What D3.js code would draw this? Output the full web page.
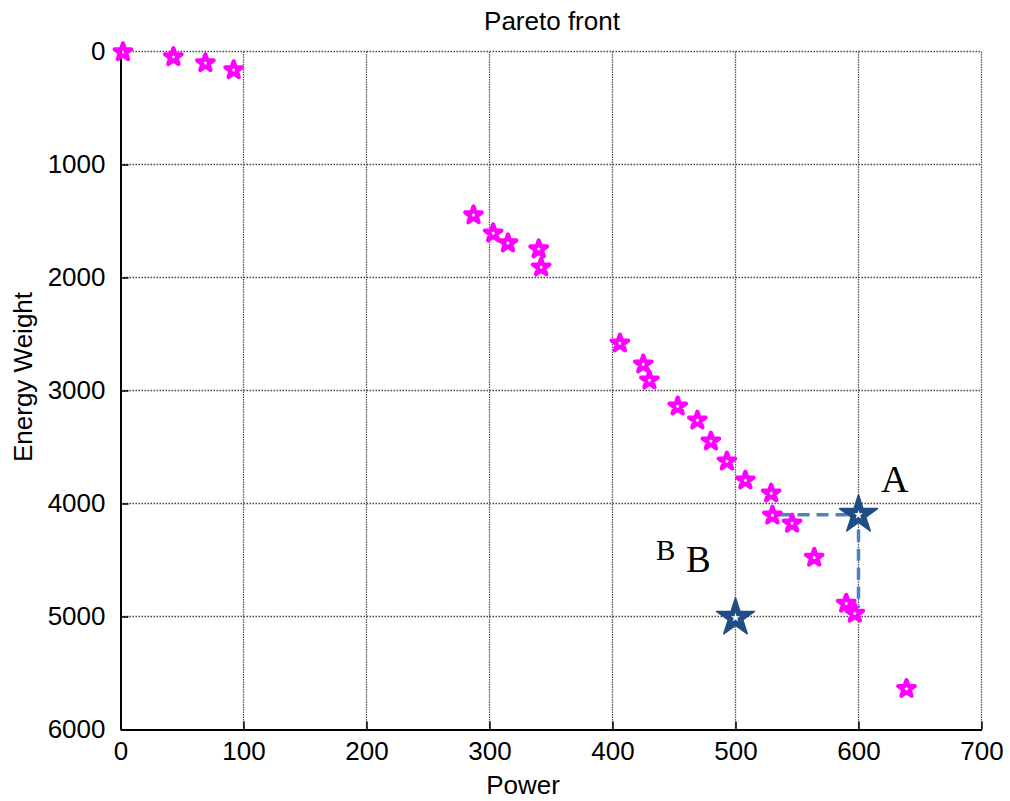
<!DOCTYPE html>
<html>
<head>
<meta charset="utf-8">
<script src="https://cdn.jsdelivr.net/npm/d3@7"></script>
<style>
  body { margin: 0; background: #fff; }
  text { font-family: "Liberation Sans", Arial, sans-serif; fill: #000; }
</style>
</head>
<body>
<svg id="viz"></svg>
<script>
// pareto front points (power, energy weight)
var paretoPower  = [2, 43, 69, 92, 287, 303, 315, 340, 342, 406, 425, 430, 453, 469, 480, 493, 508, 529, 530, 546, 564, 590, 597, 639];
var paretoEnergy = [5, 48, 102, 164, 1448, 1608, 1696, 1749, 1909, 2582, 2768, 2910, 3140, 3264, 3450, 3627, 3795, 3910, 4105, 4176, 4478, 4885, 4973, 5640];

// the two picked solutions
var solutionNames  = ['A', 'B'];
var solutionPower  = [600, 500];
var solutionEnergy = [4100, 5010];

// dashed guide from A
var linkPower  = [535, 600, 600];
var linkEnergy = [4100, 4100, 4920];

var xTicks = [0, 100, 200, 300, 400, 500, 600, 700];
var yTicks = [0, 1000, 2000, 3000, 4000, 5000, 6000];

var width = 1010, height = 801;
var svg = d3.select('#viz').attr('width', width).attr('height', height);

var x = d3.scaleLinear().domain([0, 700]).range([120.5, 981.5]);
var y = d3.scaleLinear().domain([0, 6000]).range([51.5, 729.5]);

//grid
var grid = svg.append('g');
grid.selectAll('line.h')
  .data(yTicks.slice(0, -1))
  .enter().append('line')
  .attr('x1', x(0)).attr('x2', x(700))
  .attr('y1', d => y(d)).attr('y2', d => y(d))
  .attr('stroke', '#444').attr('stroke-width', 1.3)
  .attr('stroke-dasharray', '1.5,1.5');
grid.selectAll('line.v')
  .data(xTicks.slice(1))
  .enter().append('line')
  .attr('y1', y(0)).attr('y2', y(6000))
  .attr('x1', d => x(d)).attr('x2', d => x(d))
  .attr('stroke', '#555').attr('stroke-width', 1.3)
  .attr('stroke-dasharray', '1.5,1');

//axes
var fmt = d3.format('d');
var yAxis = svg.append('g')
  .attr('transform', 'translate(' + x(0) + ',0)')
  .call(d3.axisLeft(y).tickValues(yTicks).tickFormat(fmt).tickSizeInner(-8).tickSizeOuter(0).tickPadding(15));
var xAxis = svg.append('g')
  .attr('transform', 'translate(0,' + y(6000) + ')')
  .call(d3.axisBottom(x).tickValues(xTicks).tickFormat(fmt).tickSizeInner(-8).tickSizeOuter(0).tickPadding(12));

[xAxis, yAxis].forEach(function(a) {
  a.select('.domain').attr('stroke', '#000').attr('stroke-width', 2);
  a.selectAll('.tick line').attr('stroke', '#000').attr('stroke-width', 1.5);
  a.selectAll('.tick text').style('font-size', '26px').attr('fill', '#000');
});
yAxis.selectAll('.tick').filter(d => d === 0).select('line').remove();
xAxis.selectAll('.tick').filter(d => d === 0).select('line').remove();

//dashed guide
var line = d3.line().x(d => x(d[0])).y(d => y(d[1]));
svg.append('path')
  .attr('d', line(d3.zip(linkPower, linkEnergy)))
  .attr('fill', 'none')
  .attr('stroke', '#4f81bd')
  .attr('stroke-width', 3.5)
  .attr('stroke-dasharray', '12,7');

//pareto stars
var smallStar = d3.symbol().type(d3.symbolStar).size(85);
svg.selectAll('path.pareto')
  .data(d3.zip(paretoPower, paretoEnergy))
  .enter().append('path')
  .classed('pareto', true)
  .attr('d', smallStar)
  .attr('transform', d => 'translate(' + [x(d[0]), y(d[1])] + ')')
  .attr('fill', 'none')
  .attr('stroke', '#ff00ff')
  .attr('stroke-width', 4.2)
  .attr('stroke-linejoin', 'round');

//picked solutions
var sol = svg.selectAll('g.sol')
  .data(d3.zip(solutionPower, solutionEnergy))
  .enter().append('g')
  .attr('transform', d => 'translate(' + [x(d[0]), y(d[1])] + ')');
sol.append('path')
  .attr('d', d3.symbol().type(d3.symbolStar).size(450))
  .attr('fill', '#1f4e85')
  .attr('stroke', '#1f4e85')
  .attr('stroke-width', 1.5)
  .attr('stroke-linejoin', 'round');
sol.append('path')
  .attr('d', d3.symbol().type(d3.symbolStar).size(26))
  .attr('fill', '#fff');

//labels
svg.append('text').attr('x', 881).attr('y', 492)
  .style('font-family', '"Liberation Serif", "Times New Roman", serif')
  .style('font-size', '38px').text(solutionNames[0]);
svg.append('text').attr('x', 686).attr('y', 572)
  .style('font-family', '"Liberation Serif", "Times New Roman", serif')
  .style('font-size', '37px').text(solutionNames[1]);
svg.append('text').attr('x', 656).attr('y', 560)
  .style('font-family', '"Liberation Serif", "Times New Roman", serif')
  .style('font-size', '29px').text(solutionNames[1]);

svg.append('text').attr('x', 552).attr('y', 30)
  .attr('text-anchor', 'middle').style('font-size', '26px').text('Pareto front');
svg.append('text').attr('x', 523).attr('y', 794)
  .attr('text-anchor', 'middle').style('font-size', '26px').text('Power');
svg.append('text')
  .attr('transform', 'translate(32,377)rotate(-90)')
  .attr('text-anchor', 'middle').style('font-size', '26px').text('Energy Weight');
</script>
</body>
</html>
